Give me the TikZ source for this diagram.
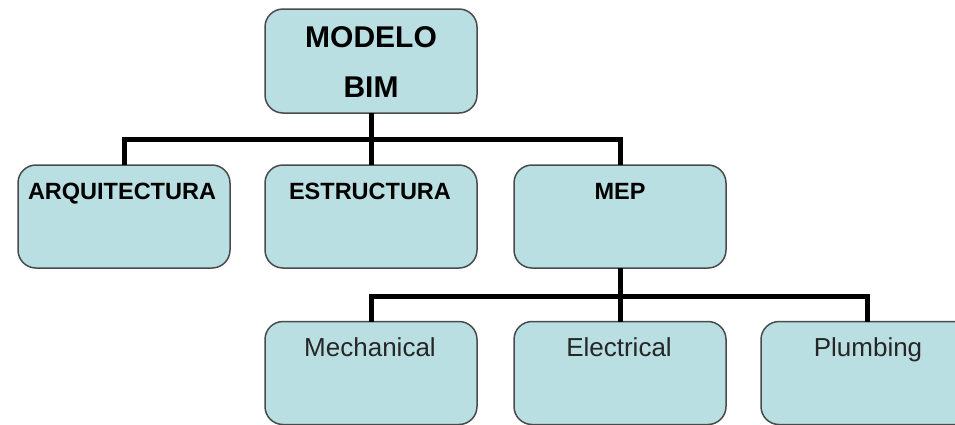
\documentclass[tikz,border=0pt]{standalone}
\usepackage{fontspec}
\setmainfont{Liberation Sans}
\definecolor{boxfill}{HTML}{B9DFE2}
\definecolor{boxline}{HTML}{4A4A4A}
\begin{document}
\begin{tikzpicture}[x=1pt,y=-1pt,
  box/.style={draw=boxline, line width=1.5pt, fill=boxfill, rounded corners=18pt,
    minimum width=212pt, minimum height=103pt, inner sep=0pt, outer sep=0pt},
  boldtxt/.style={anchor=base, inner sep=0pt, font=\fontsize{23.5}{28}\selectfont\bfseries},
  bigtxt/.style={anchor=base, inner sep=0pt, font=\fontsize{30}{36}\selectfont\bfseries},
  regtxt/.style={anchor=base, inner sep=0pt, font=\fontsize{26}{30}\selectfont, text=black!85},
  conn/.style={line width=5pt, draw=black, line join=miter, line cap=butt}]
\clip (0,0) rectangle (955,424);
\useasboundingbox (0,0) rectangle (955,424);
\fill[white] (0,0) rectangle (955,424);
% boxes
\node[box, minimum height=104pt] (top) at (371,61) {};
\node[box] (arq) at (124,216.5) {};
\node[box] (est) at (371,216.5) {};
\node[box] (mep) at (620,216.5) {};
\node[box] (mech) at (371,373) {};
\node[box] (elec) at (620,373) {};
\node[box] (plumb) at (867,373) {};
% texts
\node[bigtxt] (topA) at (371,47) {MODELO};
\node[bigtxt] (topB) at (371,97) {BIM};
\node[boldtxt] (arqT) at (122,199) {ARQUITECTURA};
\node[boldtxt] (estT) at (370,199) {ESTRUCTURA};
\node[boldtxt] (mepT) at (620,199) {MEP};
\node[regtxt] (mechT) at (370,356) {Mechanical};
\node[regtxt] (elecT) at (619,356) {Electrical};
\node[regtxt] (plumbT) at (868,356) {Plumbing};
% connectors
\coordinate (bus1) at (0,139);
\coordinate (bus2) at (0,296);
\draw[conn] (arq.north) -- (arq.north |- bus1) -- (mep.north |- bus1) -- (mep.north);
\draw[conn] (top.south) -- (est.north);
\draw[conn] (mech.north) -- (mech.north |- bus2) -- (plumb.north |- bus2) -- (plumb.north);
\draw[conn] (mep.south) -- (elec.north);
\end{tikzpicture}
\end{document}
